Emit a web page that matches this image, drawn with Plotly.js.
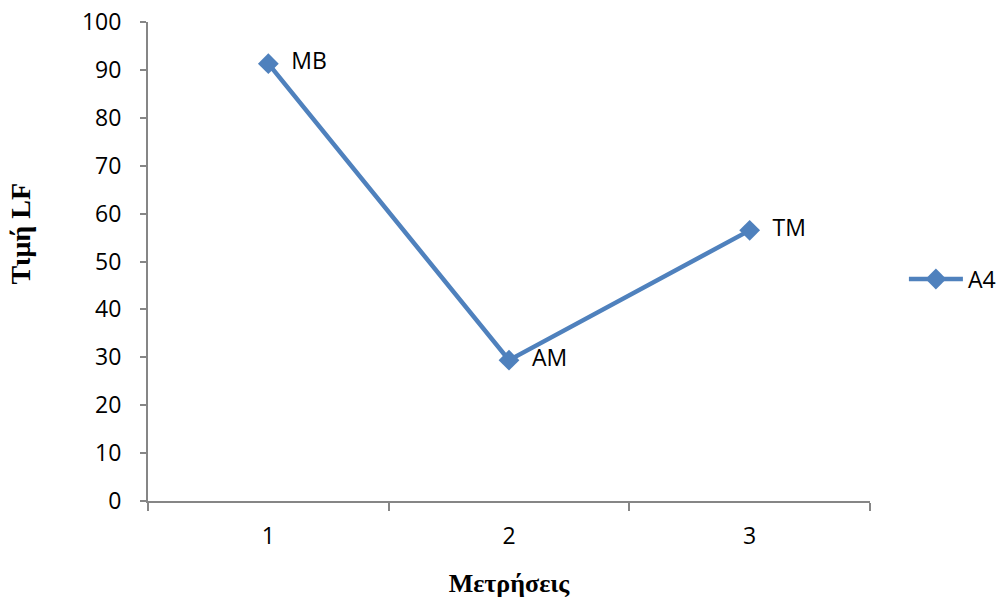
<!DOCTYPE html>
<html>
<head>
<meta charset="utf-8">
<script src="https://cdn.plot.ly/plotly-3.0.1.min.js"></script>
<style>html,body{margin:0;padding:0;background:#fff;}#chart{width:1001px;height:602px;}</style>
</head>
<body>
<div id="chart"></div>
<script>
const categories = ["1", "2", "3"];
const values = [91.3, 29.4, 56.5];
const pointLabels = ["MB", "AM", "TM"];
const seriesName = "A4";
const yTicks = [0, 10, 20, 30, 40, 50, 60, 70, 80, 90, 100];
const xTitle = "Μετρήσεις";
const yTitle = "Τιμή LF";

const blue = "#4F81BD";
const gray = "#868686";
function tf() { return {family: "Open Sans", size: 23, color: "#000"}; }
function titleFont(s) { return {family: "Liberation Serif", size: s, color: "#000", weight: "bold"}; }

const trace = {
  x: categories,
  y: values,
  text: pointLabels.map(t => "\u00a0\u00a0" + t),
  type: "scatter",
  mode: "lines+markers+text",
  textposition: "middle right",
  textfont: tf(),
  name: seriesName,
  line: {color: blue, width: 4.5},
  marker: {symbol: "diamond", size: 16, color: blue},
  cliponaxis: false
};

const layout = {
  width: 1001, height: 602,
  font: tf(),
  margin: {l: 148, r: 131, t: 22, b: 101},
  paper_bgcolor: "#fff", plot_bgcolor: "#fff",
  showlegend: true,
  legend: {xref: "container", yref: "container", x: 0.903, xanchor: "left", y: 0.5365, yanchor: "middle",
           font: tf(), itemwidth: 54, bgcolor: "rgba(0,0,0,0)"},
  xaxis: {
    type: "category",
    range: [-0.5, 2.5],
    tickson: "boundaries",
    ticks: "outside", ticklen: 8, tickwidth: 2, tickcolor: gray,
    showline: true, linecolor: gray, linewidth: 2,
    showgrid: false, zeroline: false,
    tickfont: tf(),
    ticklabelstandoff: 13,
    title: {text: xTitle, font: titleFont(26), standoff: 24}
  },
  yaxis: {
    range: [0, 100],
    tickvals: yTicks,
    ticks: "outside", ticklen: 6, tickwidth: 2, tickcolor: gray,
    showline: true, linecolor: gray, linewidth: 2,
    showgrid: false, zeroline: false,
    tickfont: tf(),
    ticklabelstandoff: 14
  },
  annotations: [{
    text: yTitle, textangle: -90, showarrow: false,
    xref: "paper", yref: "paper", x: -0.177, y: 0.557,
    xanchor: "center", yanchor: "middle",
    font: titleFont(28)
  }]
};

Plotly.newPlot("chart", [trace], layout, {displayModeBar: false});
</script>
</body>
</html>
